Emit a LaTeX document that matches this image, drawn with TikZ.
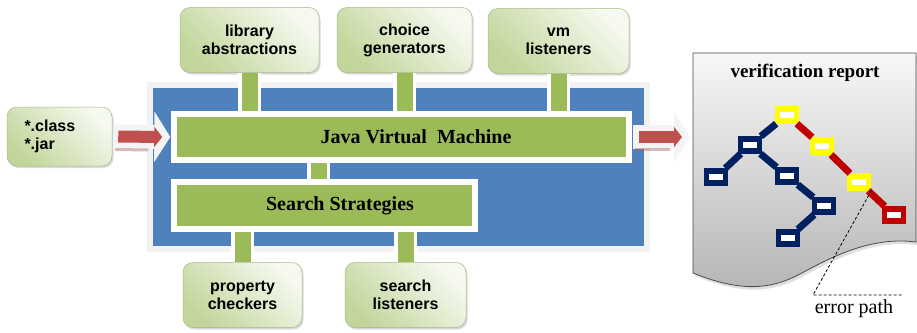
\documentclass[tikz,border=0pt]{standalone}
\usepackage{fontspec}
\setmainfont{Liberation Serif}
\setsansfont{Liberation Sans}
\usetikzlibrary{arrows.meta,positioning,shadows}

\definecolor{jvmblue}{HTML}{4F81BD}
\definecolor{bargreen}{HTML}{9BBB59}
\definecolor{boxpale}{HTML}{F6F9F0}
\definecolor{boxgreen}{HTML}{C2D69B}
\definecolor{flowred}{HTML}{C0504D}
\definecolor{treenavy}{HTML}{002060}
\definecolor{treeyellow}{HTML}{FFFF00}
\definecolor{treered}{HTML}{C00000}

\tikzset{
  plate/.style={draw=gray!10, line width=6pt, fill=jvmblue,
    drop shadow={opacity=0.3, shadow xshift=1pt, shadow yshift=-3pt}},
  bar/.style={draw=white, line width=5.5pt, fill=bargreen, inner sep=0pt,
    drop shadow={opacity=0.35, shadow xshift=1.5pt, shadow yshift=-2pt},
    font=\bfseries\fontsize{20}{24}\selectfont},
  ext/.style={rounded corners=10pt, draw=boxgreen!85!black, line width=0.5pt,
    left color=boxgreen, right color=boxpale, shading angle=135,
    drop shadow={opacity=0.3, shadow xshift=1.5pt, shadow yshift=-2pt},
    minimum height=65pt, inner sep=0pt, align=center,
    font=\sffamily\bfseries\fontsize{16}{18}\selectfont},
  link/.style={draw=white, line width=3.5pt, double=bargreen, double distance=16pt},
  flow/.style={draw=flowred, line width=12pt, -{Triangle[length=8pt,width=20pt]}},
  flowback/.style={draw=gray!9, line width=24pt, -{Triangle[length=16pt,width=50pt]}},
  glint/.style={draw=flowred!50!gray, line width=3pt, opacity=0.45},
  report/.style={draw=gray!60!black, line width=0.8pt, top color=gray!6, bottom color=gray!58,
    drop shadow={opacity=0.25, shadow xshift=2pt, shadow yshift=-3pt}},
  tnode/.style={rectangle, fill=white, line width=5.5pt, minimum width=19pt,
    minimum height=12pt, inner sep=0pt},
  tedge/.style={line width=7pt},
}

\begin{document}
\begin{tikzpicture}[x=1pt,y=-1pt]
  \useasboundingbox (0,0) rectangle (917,332);

  % model checker core
  \node[plate, minimum width=497pt, minimum height=164pt] (core) at (398.5,167) {};
  \node[bar, minimum width=455pt, minimum height=46pt] (jvm) at (401.5,137)
    {\hspace*{29pt}Java Virtual\ \ Machine};
  \node[bar, minimum width=301pt, minimum height=47pt] (search) at (324.5,205.5)
    {\hspace*{31pt}Search Strategies};

  % extension points
  \node[ext, minimum width=139pt] (lib) at (249.5,40) {library\\abstractions};
  \node[ext, minimum width=135pt] (choice) at (404.5,40) {choice\\generators};
  \node[ext, minimum width=141pt] (vml) at (558.5,41) {vm\\listeners};
  \node[ext, minimum width=119pt] (prop) at (242.5,295) {property\\checkers};
  \node[ext, minimum width=121pt] (sl) at (405.5,295) {search\\listeners};
  \node[ext, minimum width=105pt, minimum height=59pt, text width=70pt, align=left]
    (cls) at (59.5,136.5) {{*}.class\\{*}.jar};

  \draw[link] (lib) -- (lib |- jvm.north);
  \draw[link] (choice) -- (choice |- jvm.north);
  \draw[link] (vml) -- (vml |- jvm.north);
  \draw[link] ([xshift=-6pt]search.north) -- ([xshift=-6pt]search.north |- jvm.south);
  \draw[link] (search.south -| prop) -- (prop);
  \draw[link] (search.south -| sl) -- (sl);

  % input and output
  \coordinate (docin) at (693,137);
  \draw[flowback] ([xshift=1pt]cls.east) -- ([xshift=-1pt]jvm.west);
  \draw[glint] ([shift={(3pt,-13pt)}]cls.east) -- ([shift={(-23pt,-13pt)}]jvm.west);
  \draw[flow] ([xshift=6pt]cls.east) -- ([xshift=-9pt]jvm.west);
  \draw[flowback] ([xshift=1pt]jvm.east) -- ([xshift=-3pt]docin);
  \draw[glint] ([shift={(3pt,-12pt)}]jvm.east) -- ([shift={(-23pt,-12pt)}]docin);
  \draw[flow] ([xshift=7pt]jvm.east) -- ([xshift=-11pt]docin);

  % report sheet
  \draw[report] (693,53) -- (916,53) -- (916,242)
    .. controls (870,236) and (830,258) .. (800,274)
    .. controls (770,290) and (740,292) .. (693,273) -- cycle;
  \node[font=\bfseries\fontsize{19}{22}\selectfont] (title) at (805,73) {verification\ report};

  % search tree
  \node[tnode, draw=treeyellow] (r0) at (787,115) {};
  \node[tnode, draw=treenavy] (a1) at (750,145) {};
  \node[tnode, draw=treenavy] (a2) at (716,177) {};
  \node[tnode, draw=treenavy] (a3) at (787,176) {};
  \node[tnode, draw=treenavy] (a4) at (824,206) {};
  \node[tnode, draw=treenavy] (a5) at (788,238) {};
  \node[tnode, draw=treeyellow] (y1) at (822,146) {};
  \node[tnode, draw=treeyellow] (y2) at (859,182) {};
  \node[tnode, draw=treered] (e1) at (894,215) {};
  \draw[tedge, treenavy] (r0) -- (a1) (a1) -- (a2) (a1) -- (a3) (a3) -- (a4) (a4) -- (a5);
  \draw[tedge, treered] (r0) -- (y1) (y1) -- (y2) (y2) -- (e1);

  % error path callout
  \node[font=\fontsize{20}{22}\selectfont] (err) at (854,309) {error path};
  \coordinate (bend) at (813,295);
  \draw[dashed, line width=0.8pt, dash pattern=on 3pt off 2pt] (y2.south east) -- (bend) -- ++(90,0);
\end{tikzpicture}
\end{document}
